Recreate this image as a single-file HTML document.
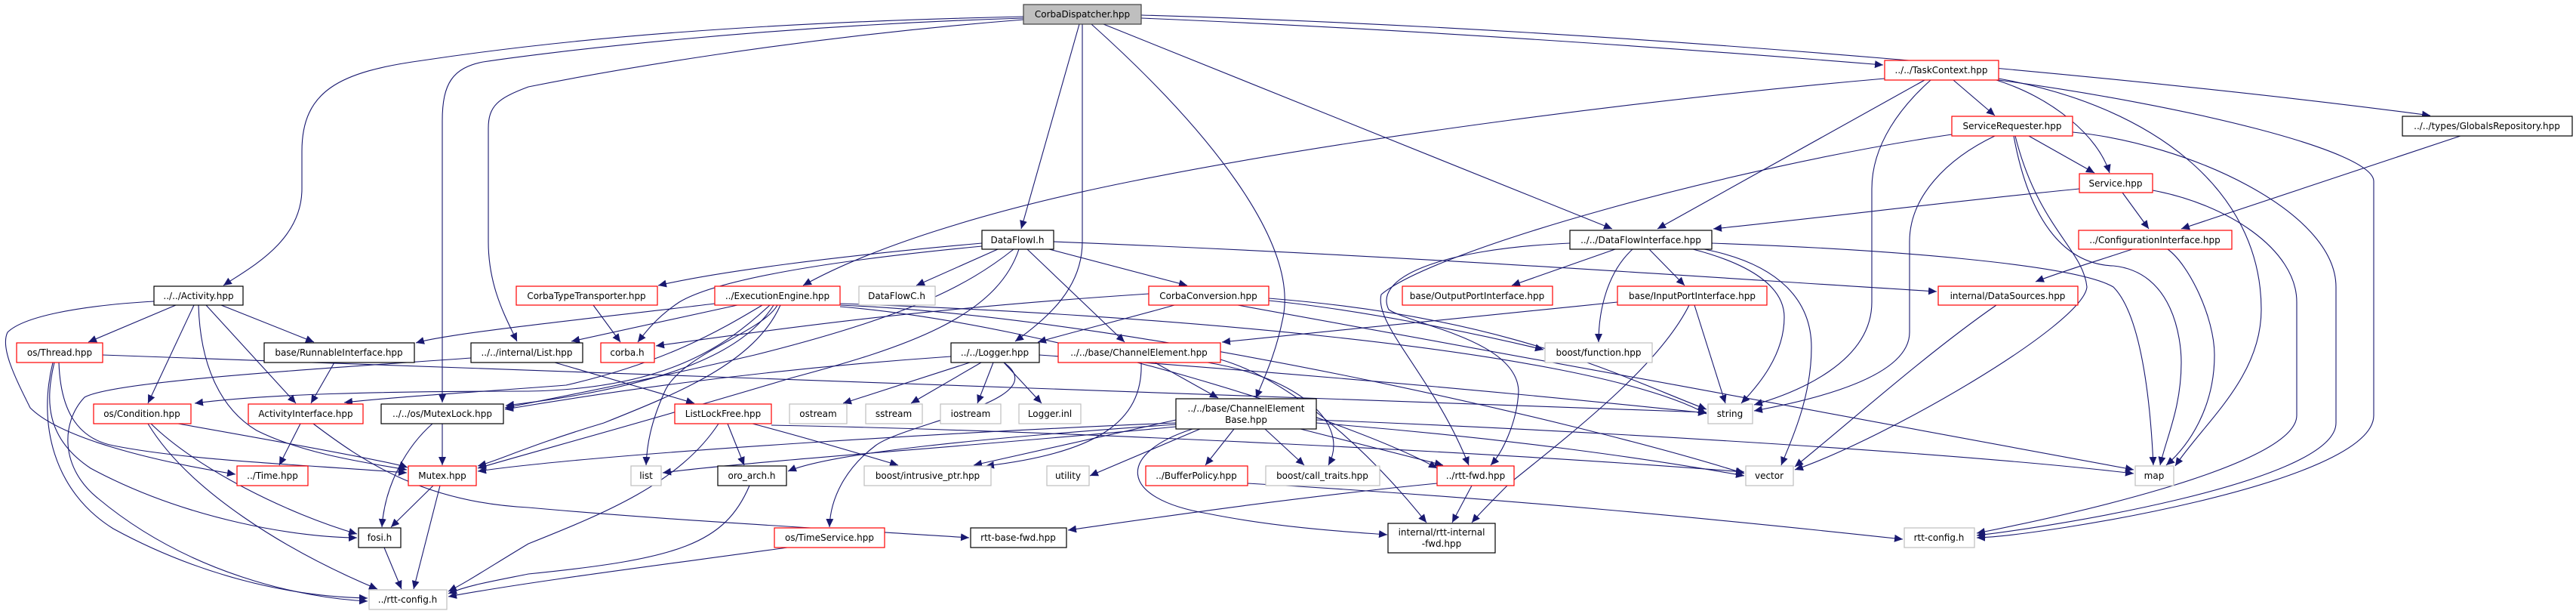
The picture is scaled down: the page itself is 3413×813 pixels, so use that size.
<!DOCTYPE html>
<html><head><meta charset="utf-8"><style>
html,body{margin:0;padding:0;background:#fff;}
svg{display:block;}
text{font-family:"DejaVu Sans","Liberation Sans",sans-serif;font-size:12px;fill:#000;}
</style></head><body>
<svg width="3413" height="813" viewBox="0 0 3413 813" xmlns="http://www.w3.org/2000/svg">
<defs>
<marker id="a" markerUnits="userSpaceOnUse" markerWidth="12" markerHeight="10" refX="11" refY="5" orient="auto">
<path d="M0,0 L11,5 L0,10 z" fill="#191970"/>
</marker>
</defs>
<g fill="none" stroke="#191970" stroke-width="1.1" marker-end="url(#a)">
<!-- CorbaDispatcher edges -->
<path d="M1356,22 C1000,30 760,50 560,80 C450,95 400,120 400,200 L400,250 C400,320 330,355 296,378"/>
<path d="M1356,24 C1000,35 720,70 640,82 C600,90 586,110 586,160 L586,533"/>
<path d="M1356,26 C1050,50 800,95 700,115 C660,130 647,140 647,170 L647,320 C647,380 670,420 685,452"/>
<path d="M1430,32 L1353,303"/>
<path d="M1434,32 L1434,320 C1434,380 1390,420 1345,452"/>
<path d="M1446,32 C1600,170 1720,320 1700,420 C1690,470 1675,500 1664,527"/>
<path d="M1462,32 L2136,303"/>
<path d="M1512,24 C1900,40 2300,70 2495,86"/>
<path d="M1512,20 C2200,40 2900,110 3220,153"/>
<!-- TaskContext -->
<path d="M2497,104 C2200,130 1800,180 1500,240 C1300,280 1150,330 1064,378"/>
<path d="M2550,106 L2196,303"/>
<path d="M2558,106 C2520,140 2480,190 2480,250 L2480,400 C2480,480 2380,520 2324,536"/>
<path d="M2588,106 L2643,153"/>
<path d="M2645,106 C2720,130 2780,180 2795,229"/>
<path d="M2648,104 C2850,140 2996,250 2996,410 C2996,500 2920,560 2882,617"/>
<path d="M2648,106 C2900,140 3145,200 3145,240 L3145,550 C3145,640 2700,710 2619,712"/>
<!-- ServiceRequester -->
<path d="M2586,178 C2300,220 1900,330 1830,390 C1820,430 1900,500 1946,616"/>
<path d="M2643,180 C2580,210 2530,260 2530,320 L2530,440 C2530,500 2400,530 2324,544"/>
<path d="M2688,180 L2775,229"/>
<path d="M2668,180 C2690,300 2740,350 2800,352 C2880,360 2890,450 2890,480 C2890,540 2870,580 2862,616"/>
<path d="M2670,180 C2700,300 2760,330 2765,380 C2760,430 2500,580 2378,622"/>
<path d="M2746,175 C2900,190 3095,280 3095,380 L3095,560 C3095,640 2700,700 2619,709"/>
<!-- Service / Globals / Config -->
<path d="M2755,250 C2600,265 2400,290 2270,303"/>
<path d="M2812,255 L2847,303"/>
<path d="M2852,252 C2950,270 3043,330 3043,400 L3043,550 C3043,620 2700,690 2619,706"/>
<path d="M3260,180 L2890,303"/>
<path d="M2872,330 C2900,350 2934,420 2934,470 C2934,540 2900,590 2870,616"/>
<path d="M2825,330 C2780,345 2730,360 2697,373"/>
<path d="M2645,404 C2550,470 2450,560 2378,618"/>
<!-- DataFlowInterface -->
<path d="M2185,330 L2232,378"/>
<path d="M2163,330 C2130,360 2118,410 2118,453"/>
<path d="M2243,330 C2320,350 2364,380 2364,420 C2364,470 2330,510 2307,534"/>
<path d="M2258,330 C2360,350 2400,400 2400,460 C2400,530 2370,590 2360,616"/>
<path d="M2268,322 C2500,330 2750,350 2800,380 C2840,420 2850,550 2853,616"/>
<path d="M2140,330 L2003,378"/>
<path d="M2080,322 C1900,330 1820,370 1840,410 C1870,430 2010,450 2012,518 C2010,560 1990,600 1975,616"/>
<!-- InputPortInterface -->
<path d="M2143,400 C1950,420 1750,440 1619,453"/>
<path d="M2245,404 L2286,534"/>
<path d="M2238,404 C2200,480 2100,560 2000,640 C1980,660 1960,680 1950,692"/>
<!-- DataFlowI.h -->
<path d="M1301,322 C1100,340 950,360 872,378"/>
<path d="M1301,326 C1100,345 950,370 900,400 C870,420 855,440 845,453"/>
<path d="M1322,330 L1214,378"/>
<path d="M1390,330 L1573,378"/>
<path d="M1361,330 L1490,453"/>
<path d="M1396,320 C1900,340 2300,370 2566,386"/>
<path d="M1343,330 C1280,380 1200,420 1000,470 C850,505 720,530 669,540"/>
<path d="M1350,330 C1320,420 1200,460 1050,500 C850,560 700,600 633,620"/>
<!-- ExecutionEngine -->
<path d="M977,404 L757,452"/>
<path d="M947,402 C800,420 600,440 551,454"/>
<path d="M1030,404 C1010,440 900,470 880,520 C862,560 857,590 856,616"/>
<path d="M1010,404 C950,440 880,480 750,510 C620,520 530,525 456,533"/>
<path d="M1020,404 C960,460 880,515 700,518 C500,518 350,522 258,534"/>
<path d="M1025,404 C990,460 900,510 670,537"/>
<path d="M1034,404 C1000,480 900,520 800,560 C700,590 660,610 633,617"/>
<path d="M1113,404 C1500,420 2100,560 2311,627"/>
<path d="M1113,406 C1400,430 1800,560 1904,620"/>
<path d="M1113,402 C1500,415 2100,460 2261,548"/>
<!-- CTT -->
<path d="M786,404 L822,453"/>
<!-- CorbaConversion -->
<path d="M1522,389 C1200,410 1000,440 869,458"/>
<path d="M1556,404 C1500,420 1420,440 1375,453"/>
<path d="M1681,395 C2000,420 2150,500 2261,542"/>
<path d="M1640,404 C1900,450 2600,580 2827,622"/>
<path d="M1681,398 C1800,410 1950,440 2045,463"/>
<!-- Logger -->
<path d="M1285,480 L1117,534"/>
<path d="M1300,480 L1207,534"/>
<path d="M1316,480 L1295,534"/>
<path d="M1330,480 L1380,534"/>
<path d="M1260,472 C1000,490 800,520 669,542"/>
<path d="M1377,470 C1800,500 2100,530 2261,547"/>
<path d="M1330,480 C1400,530 1200,560 1160,590 C1120,620 1100,660 1099,698"/>
<!-- List / LLF -->
<path d="M735,480 L920,534"/>
<path d="M624,474 C400,490 150,505 112,526 C80,560 80,620 130,660 C250,760 400,792 487,796"/>
<path d="M964,561 L986,616"/>
<path d="M997,561 C1050,575 1120,595 1190,616"/>
<path d="M952,561 C900,640 800,680 700,720 C650,750 620,770 594,783"/>
<path d="M1022,563 C1400,570 2000,600 2311,625"/>
<!-- ChannelElement -->
<path d="M1530,480 L1614,527"/>
<path d="M1512,480 C1515,560 1450,600 1306,617"/>
<path d="M1600,480 C1720,500 1790,560 1760,616"/>
<path d="M1617,476 C1700,500 1800,580 1890,692"/>
<!-- ChannelElementBase -->
<path d="M1590,568 L1444,630"/>
<path d="M1635,568 L1597,616"/>
<path d="M1676,568 L1728,616"/>
<path d="M1723,568 L1912,616"/>
<path d="M1580,568 C1480,600 1480,660 1600,680 C1700,700 1800,705 1838,708"/>
<path d="M1558,560 C1300,570 800,600 633,624"/>
<path d="M1558,562 C1300,580 1100,600 1044,624"/>
<path d="M1558,565 C1300,590 1000,610 878,626"/>
<path d="M1558,556 L1290,616"/>
<path d="M1744,556 C2100,570 2600,600 2827,627"/>
<path d="M1744,560 C2000,580 2200,610 2311,630"/>
<!-- rtt-fwd, BufferPolicy -->
<path d="M1904,640 C1700,660 1500,690 1415,702"/>
<path d="M1950,643 L1924,692"/>
<path d="M1653,640 C2000,660 2300,690 2521,714"/>
<!-- Activity -->
<path d="M233,404 L117,453"/>
<path d="M293,404 L416,453"/>
<path d="M257,404 L196,534"/>
<path d="M273,404 L392,534"/>
<path d="M263,404 C265,480 290,540 340,570 C400,600 480,612 539,622"/>
<path d="M204,399 C100,405 30,420 10,440 C0,460 20,500 40,540 C80,580 200,610 312,628"/>
<!-- Thread -->
<path d="M136,470 C700,490 1400,510 2261,546"/>
<path d="M78,480 C80,540 100,580 150,590 C250,610 400,615 539,626"/>
<path d="M72,480 C60,530 60,580 120,620 C250,690 400,712 473,712"/>
<path d="M70,480 C50,560 70,650 150,700 C260,760 380,790 487,792"/>
<!-- misc -->
<path d="M443,480 L412,534"/>
<path d="M236,561 C400,590 520,612 540,619"/>
<path d="M200,561 C260,620 380,680 473,707"/>
<path d="M196,561 C250,650 380,730 500,780"/>
<path d="M398,561 L370,616"/>
<path d="M415,561 C480,610 560,665 700,672 C900,690 1100,700 1284,712"/>
<path d="M586,561 L586,616"/>
<path d="M573,561 C540,590 510,640 506,698"/>
<path d="M574,643 L518,698"/>
<path d="M583,643 L548,780"/>
<path d="M509,725 L532,780"/>
<path d="M993,643 C960,720 900,740 700,760 C650,770 620,775 594,786"/>
<path d="M1043,725 C900,745 700,770 594,790"/>
</g>
<g stroke-width="1.2">
<rect x="1356" y="6" width="156" height="26" fill="#bfbfbf" stroke="#404040"/>
<g fill="#fff" stroke="#000">
<rect x="204" y="379" width="118" height="25"/>
<rect x="350" y="454" width="199" height="26"/>
<rect x="624" y="454" width="148" height="26"/>
<rect x="505" y="535" width="162" height="26"/>
<rect x="475" y="699" width="56" height="26"/>
<rect x="1301" y="305" width="95" height="25"/>
<rect x="1260" y="454" width="117" height="26"/>
<rect x="951" y="617" width="91" height="26"/>
<rect x="1286" y="699" width="127" height="26"/>
<rect x="1558" y="528" width="186" height="40"/>
<rect x="1839" y="693" width="142" height="39"/>
<rect x="2080" y="305" width="188" height="25"/>
<rect x="3183" y="154" width="225" height="26"/>
</g>
<g fill="#fff" stroke="#ff0000">
<rect x="22" y="454" width="114" height="26"/>
<rect x="124" y="535" width="129" height="26"/>
<rect x="329" y="535" width="152" height="26"/>
<rect x="314" y="617" width="94" height="26"/>
<rect x="541" y="617" width="90" height="26"/>
<rect x="684" y="379" width="187" height="25"/>
<rect x="947" y="379" width="166" height="25"/>
<rect x="796" y="454" width="71" height="26"/>
<rect x="894" y="535" width="128" height="26"/>
<rect x="1026" y="699" width="146" height="26"/>
<rect x="1522" y="379" width="159" height="25"/>
<rect x="1858" y="379" width="199" height="25"/>
<rect x="1402" y="454" width="215" height="26"/>
<rect x="1518" y="617" width="135" height="26"/>
<rect x="1904" y="617" width="102" height="26"/>
<rect x="2497" y="80" width="151" height="26"/>
<rect x="2586" y="154" width="160" height="26"/>
<rect x="2143" y="379" width="198" height="25"/>
<rect x="2568" y="379" width="185" height="25"/>
<rect x="2755" y="230" width="97" height="25"/>
<rect x="2754" y="305" width="203" height="25"/>
</g>
<g fill="#fff" stroke="#bfbfbf">
<rect x="489" y="781" width="103" height="26"/>
<rect x="1138" y="379" width="101" height="25"/>
<rect x="1046" y="535" width="76" height="26"/>
<rect x="1147" y="535" width="75" height="26"/>
<rect x="1246" y="535" width="80" height="26"/>
<rect x="1350" y="535" width="82" height="26"/>
<rect x="836" y="617" width="40" height="26"/>
<rect x="1145" y="617" width="168" height="26"/>
<rect x="2047" y="454" width="142" height="26"/>
<rect x="1387" y="617" width="56" height="26"/>
<rect x="1677" y="617" width="151" height="26"/>
<rect x="2263" y="535" width="59" height="26"/>
<rect x="2313" y="617" width="63" height="26"/>
<rect x="2523" y="699" width="93" height="26"/>
<rect x="2829" y="617" width="51" height="26"/>
</g>
</g>
<g text-anchor="middle">
<text x="1434" y="23">CorbaDispatcher.hpp</text>
<text x="263" y="396">../../Activity.hpp</text>
<text x="449" y="471">base/RunnableInterface.hpp</text>
<text x="698" y="471">../../internal/List.hpp</text>
<text x="586" y="552">../../os/MutexLock.hpp</text>
<text x="503" y="716">fosi.h</text>
<text x="1348" y="322">DataFlowI.h</text>
<text x="1318" y="471">../../Logger.hpp</text>
<text x="996" y="634">oro_arch.h</text>
<text x="1349" y="716">rtt-base-fwd.hpp</text>
<text x="1651" y="545">../../base/ChannelElement</text>
<text x="1651" y="560">Base.hpp</text>
<text x="1910" y="709">internal/rtt-internal</text>
<text x="1910" y="724">-fwd.hpp</text>
<text x="2174" y="322">../../DataFlowInterface.hpp</text>
<text x="3295" y="171">../../types/GlobalsRepository.hpp</text>
<text x="79" y="471">os/Thread.hpp</text>
<text x="188" y="552">os/Condition.hpp</text>
<text x="405" y="552">ActivityInterface.hpp</text>
<text x="361" y="634">../Time.hpp</text>
<text x="586" y="634">Mutex.hpp</text>
<text x="777" y="396">CorbaTypeTransporter.hpp</text>
<text x="1030" y="396">../ExecutionEngine.hpp</text>
<text x="831" y="471">corba.h</text>
<text x="958" y="552">ListLockFree.hpp</text>
<text x="1099" y="716">os/TimeService.hpp</text>
<text x="1601" y="396">CorbaConversion.hpp</text>
<text x="1957" y="396">base/OutputPortInterface.hpp</text>
<text x="1509" y="471">../../base/ChannelElement.hpp</text>
<text x="1585" y="634">../BufferPolicy.hpp</text>
<text x="1955" y="634">../rtt-fwd.hpp</text>
<text x="2572" y="97">../../TaskContext.hpp</text>
<text x="2666" y="171">ServiceRequester.hpp</text>
<text x="2242" y="396">base/InputPortInterface.hpp</text>
<text x="2660" y="396">internal/DataSources.hpp</text>
<text x="2803" y="247">Service.hpp</text>
<text x="2855" y="322">../ConfigurationInterface.hpp</text>
<text x="540" y="798">../rtt-config.h</text>
<text x="1188" y="396">DataFlowC.h</text>
<text x="1084" y="552">ostream</text>
<text x="1184" y="552">sstream</text>
<text x="1286" y="552">iostream</text>
<text x="1391" y="552">Logger.inl</text>
<text x="856" y="634">list</text>
<text x="1229" y="634">boost/intrusive_ptr.hpp</text>
<text x="2118" y="471">boost/function.hpp</text>
<text x="1415" y="634">utility</text>
<text x="1752" y="634">boost/call_traits.hpp</text>
<text x="2292" y="552">string</text>
<text x="2344" y="634">vector</text>
<text x="2569" y="716">rtt-config.h</text>
<text x="2854" y="634">map</text>
</g>
</svg>
</body></html>
